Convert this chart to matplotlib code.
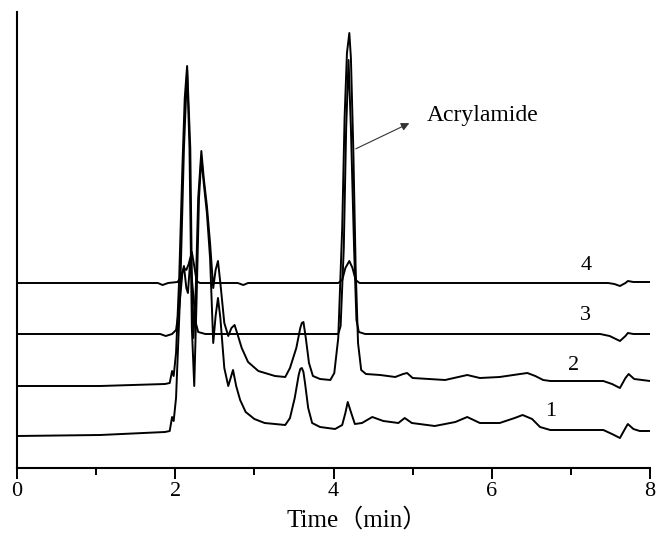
# chromatogram of four runs, stacked with a vertical offset
import matplotlib
matplotlib.use('Agg')
import matplotlib.pyplot as plt
from matplotlib.ticker import MultipleLocator

plt.rcParams['font.family'] = ['Liberation Serif', 'Noto Sans CJK SC']

# run 1 (bottom trace): time in min, signal in arbitrary units
t1 = [0, 1.05, 1.87, 1.93, 1.96, 1.98, 2.01, 2.06, 2.11, 2.15, 2.18, 2.21, 2.24, 2.27,
      2.30, 2.33, 2.36, 2.40, 2.44, 2.48, 2.51, 2.54, 2.57, 2.62, 2.67, 2.70, 2.73, 2.77,
      2.82, 2.89, 3.00, 3.13, 3.39, 3.45, 3.51, 3.56, 3.58, 3.60, 3.62, 3.64, 3.68, 3.73,
      3.83, 4.02, 4.11, 4.15, 4.18, 4.22, 4.27, 4.36, 4.49, 4.63, 4.82, 4.90, 4.99, 5.28,
      5.54, 5.69, 5.85, 6.10, 6.29, 6.39, 6.51, 6.61, 6.74, 7.41, 7.52, 7.62, 7.69, 7.72,
      7.79, 7.87, 8.0]
s1 = [0, 1, 4, 5, 19, 15, 38, 138, 288, 366, 288, 108, 50, 138,
      238, 278, 253, 223, 178, 93, 120, 138, 118, 68, 50, 58, 66, 50,
      36, 24, 17, 13, 11, 18, 38, 61, 67, 68, 64, 53, 28, 13,
      9, 7, 11, 23, 34, 24, 12, 13, 19, 15, 13, 18, 13, 10,
      14, 19, 13, 13, 18, 21, 17, 9, 6, 6, 2, -2, 8, 12,
      7, 5, 5]

# run 2
t2 = [0, 1.05, 1.87, 1.93, 1.96, 1.98, 2.01, 2.05, 2.09, 2.12, 2.15, 2.19, 2.21, 2.23,
      2.26, 2.29, 2.33, 2.36, 2.40, 2.44, 2.48, 2.51, 2.54, 2.57, 2.62, 2.67, 2.71, 2.75,
      2.79, 2.84, 2.92, 3.05, 3.26, 3.39, 3.45, 3.53, 3.58, 3.60, 3.62, 3.65, 3.69, 3.74,
      3.83, 3.96, 4.01, 4.06, 4.11, 4.14, 4.17, 4.20, 4.22, 4.25, 4.28, 4.31, 4.35, 4.41,
      4.59, 4.78, 4.88, 4.93, 5.00, 5.41, 5.69, 5.85, 6.10, 6.36, 6.45, 6.55, 6.65, 6.74,
      7.41, 7.52, 7.62, 7.69, 7.73, 7.80, 8.0]
s2 = [0, 0, 2, 3, 15, 10, 33, 108, 218, 288, 320, 238, 108, 48,
      98, 188, 235, 208, 180, 143, 98, 116, 125, 103, 63, 50, 58, 61,
      51, 38, 24, 15, 10, 9, 18, 38, 58, 63, 64, 48, 23, 10,
      7, 6, 13, 48, 158, 268, 333, 353, 328, 238, 118, 43, 16, 12,
      11, 9, 12, 13, 8, 6, 11, 8, 9, 12, 13, 10, 6, 5,
      5, 2, -2, 8, 12, 7, 5]

# run 3
t3 = [0, 1.81, 1.88, 1.96, 2.01, 2.05, 2.09, 2.11, 2.14, 2.16, 2.19, 2.22, 2.26, 2.29,
      2.38, 4.06, 4.09, 4.13, 4.16, 4.19, 4.22, 4.26, 4.29, 4.32, 4.40, 7.37, 7.49, 7.62,
      7.69, 7.72, 7.79, 8.0]
s3 = [0, 0, -2, 0, 4, 26, 61, 68, 46, 41, 74, 46, 11, 2,
      0, 0, 8, 86, 206, 274, 206, 86, 14, 2, 0, 0, -2, -7,
      -2, 1, 0, 0]

# run 4 (top trace)
t4 = [0, 1.78, 1.84, 1.91, 2.03, 2.07, 2.11, 2.14, 2.17, 2.21, 2.24, 2.27, 2.31, 2.79,
      2.86, 2.92, 4.06, 4.11, 4.15, 4.20, 4.24, 4.28, 4.33, 7.47, 7.55, 7.62, 7.69, 7.72,
      7.79, 8.0]
s4 = [0, 0, -2, 0, 1, 6, 15, 13, 19, 31, 17, 2, 0, 0,
      -2, 0, 0, 3, 15, 22, 15, 3, 0, 0, -1, -3, 0, 2,
      1, 1]

times = [t1, t2, t3, t4]
signals = [s1, s2, s3, s4]
run_labels = ['1', '2', '3', '4']
offsets = [32, 82, 134, 185]
label_pos = [(6.75, 56), (7.03, 103), (7.19, 152), (7.19, 202)]

fig = plt.figure(figsize=(6.56, 5.34), dpi=100)
ax = fig.add_axes([17 / 656, 66 / 534, 633 / 656, 456 / 534])

for t, s, off in zip(times, signals, offsets):
    ax.plot(t, [v + off for v in s], color='black', lw=1.4, solid_joinstyle='round')

for lab, (x, y) in zip(run_labels, label_pos):
    ax.text(x, y, lab, fontsize=16, ha='center', va='center')

# arrow pointing at the acrylamide peak
ax.annotate('', xy=(4.99, 346), xytext=(4.25, 318),
            arrowprops=dict(arrowstyle='-|>', color='#333333', lw=0.8,
                            mutation_scale=12))
ax.text(5.18, 353, 'Acrylamide', fontsize=17, ha='left', va='center')

ax.set_xlim(0, 8)
ax.set_ylim(0, 456)
ax.xaxis.set_major_locator(MultipleLocator(2))
ax.xaxis.set_minor_locator(MultipleLocator(1))
ax.tick_params(axis='x', which='major', direction='out', length=8, width=1.4,
               labelsize=16, pad=2)
ax.tick_params(axis='x', which='minor', direction='out', length=5, width=1.4)
ax.set_yticks([])
ax.spines['top'].set_visible(False)
ax.spines['right'].set_visible(False)
ax.spines['left'].set_linewidth(1.5)
ax.spines['bottom'].set_linewidth(1.5)
ax.set_xlabel('Time（min）', fontsize=18, labelpad=0, va='bottom')
ax.xaxis.set_label_coords(340 / 633, -(532 - 468) / 456)

fig.savefig('out.png', dpi=100)
